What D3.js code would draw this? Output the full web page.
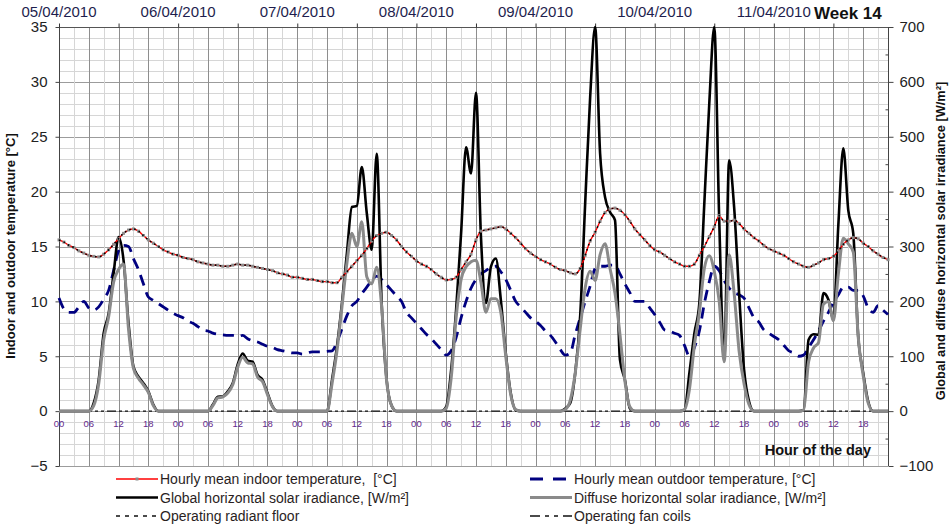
<!doctype html>
<html>
  <head>
    <title>Week 14</title>
    <style>
      html, body { margin: 0; padding: 0; background: #fff; }
      svg { display: block; font-family: "Liberation Sans", Arial, sans-serif; }
      svg text { white-space: pre; }
    </style>
  </head>
  <body>
    <div id="chart"></div>
    <script src="https://d3js.org/d3.v7.min.js"></script>
    <script>
      // hourly values, 05/04/2010 00h .. 11/04/2010 23h
      var indoorTemp = [
        15.6,15.4,15.1,14.9,14.6,14.4,14.2,14.1,14.05,14.3,14.7,15.2,15.7,16.2,16.5,16.6,16.4,16.0,15.6,15.3,15.0,14.7,14.5,14.3,
        14.2,14.0,13.9,13.8,13.6,13.5,13.4,13.3,13.3,13.2,13.2,13.3,13.4,13.3,13.3,13.2,13.1,13.0,12.9,12.8,12.6,12.5,12.4,12.2,
        12.2,12.1,12.0,12.0,11.9,11.8,11.8,11.7,11.7,12.2,12.7,13.2,13.7,14.2,14.8,15.5,16.0,16.2,16.3,16.0,15.6,15.0,14.5,14.1,
        13.7,13.4,13.2,12.9,12.5,12.2,11.95,12.0,12.2,12.9,13.6,14.3,15.6,16.4,16.5,16.6,16.7,16.8,16.6,16.2,15.8,15.3,14.8,14.4,
        14.1,13.8,13.6,13.4,13.1,12.9,12.8,12.6,12.5,13.0,14.2,15.5,16.3,17.3,18.1,18.4,18.5,18.3,17.9,17.3,16.6,16.1,15.6,15.1,
        14.7,14.5,14.2,13.9,13.6,13.4,13.2,13.2,13.4,14.2,15.0,15.9,16.8,17.8,17.3,17.3,17.4,17.1,16.6,16.2,15.8,15.5,15.1,14.8,
        14.6,14.4,14.2,13.9,13.6,13.4,13.2,13.1,13.3,13.5,13.8,13.9,14.1,14.6,15.2,15.6,15.8,15.7,15.3,15.0,14.6,14.3,14.0,13.8
      ];
      var outdoorTemp = [
        10.3,9.3,9.0,9.0,9.5,10.0,9.4,9.2,9.5,10.2,11.0,12.8,14.6,15.1,15.0,13.9,12.9,11.6,10.4,10.1,9.8,9.5,9.2,8.9,
        8.7,8.5,8.2,8.0,7.7,7.4,7.3,7.1,7.0,6.95,6.9,6.9,6.8,6.9,6.6,6.4,6.3,6.1,5.9,5.8,5.6,5.5,5.4,5.3,
        5.3,5.2,5.3,5.4,5.4,5.4,5.45,5.5,6.3,7.5,8.7,9.6,10.0,10.7,11.3,11.9,12.3,12.0,11.5,11.0,10.5,10.0,9.0,8.5,
        8.0,7.5,7.0,6.6,6.1,5.6,5.1,5.5,6.7,8.5,10.0,11.2,12.0,12.5,12.8,13.1,13.2,12.7,12.0,11.0,10.0,9.5,9.0,8.5,
        8.2,7.8,7.3,6.9,6.3,5.6,5.1,5.3,7.0,8.5,10.0,11.4,13.0,13.2,13.2,13.3,13.3,12.5,11.6,10.8,10.0,10.0,10.0,9.4,
        8.8,8.1,7.4,7.3,7.1,6.9,6.0,5.0,5.8,7.3,9.8,11.8,13.2,12.8,11.9,11.2,10.8,10.6,10.3,9.4,8.5,8.1,7.4,7.1,
        6.8,6.5,6.0,5.5,5.3,5.0,5.1,5.8,6.5,7.3,8.2,9.0,9.9,10.6,11.3,11.3,11.0,11.0,10.5,9.4,9.0,9.6,9.2,8.8
      ];
      var globalIrr = [
        0,0,0,0,0,0,0,15,57,142,178,251,317,275,161,81,63,51,36,12,0,0,0,0,
        0,0,0,0,0,0,0,12,26,27,36,51,85,105,92,90,66,57,33,9,0,0,0,0,
        0,0,0,0,0,0,0,57,118,197,288,372,374,445,361,294,469,197,57,10,0,0,0,0,
        0,0,0,0,0,0,8,75,185,324,481,433,580,318,197,263,278,203,106,33,2,0,0,0,
        0,0,0,0,0,0,5,15,70,175,379,572,700,470,390,363,348,94,57,5,0,0,0,0,
        0,0,0,0,0,0,2,70,142,197,379,561,700,348,95,457,372,215,76,18,0,0,0,0,
        0,0,0,0,0,0,2,130,140,139,215,203,166,340,479,366,324,136,70,18,0,0,0,0
      ];
      var diffuseIrr = [
        0,0,0,0,0,0,0,10,50,130,172,235,258,268,150,78,60,48,34,10,0,0,0,0,
        0,0,0,0,0,0,0,10,24,26,33,48,80,98,88,86,62,54,30,8,0,0,0,0,
        0,0,0,0,0,0,0,50,110,190,270,324,300,345,245,232,262,190,55,10,0,0,0,0,
        0,0,0,0,0,0,5,60,170,240,263,272,275,235,180,205,205,180,100,30,3,0,0,0,
        0,0,0,0,0,0,3,20,70,150,225,255,238,285,305,260,215,140,55,8,0,0,0,0,
        0,0,0,0,0,0,3,40,120,180,260,283,255,200,90,285,215,110,50,12,0,0,0,0,
        0,0,0,0,0,0,2,90,115,125,195,200,165,250,315,305,290,135,65,15,0,0,0,0
      ];
      // radiant floor runs all week (plotted on the indoor temperature), fan coils stay off
      var radiantFloor = indoorTemp;
      var fanCoilHours = [0, 167];
      var fanCoilState = [0, 0];

      var dateLabels = ["05/04/2010","06/04/2010","07/04/2010","08/04/2010","09/04/2010","10/04/2010","11/04/2010"];
      var dateHours = [0, 24, 48, 72, 96, 120, 144];
      var hourLabels = ["00","06","12","18"];
      var tempTicks = [-5, 0, 5, 10, 15, 20, 25, 30, 35];
      var irrTicks = [-100, 0, 100, 200, 300, 400, 500, 600, 700];

      (function() {
        var W = 951, H = 529;
        var pLeft = 59, pRight = 888, pTop = 27, pBottom = 466;

        var svg = d3.select("#chart").append("svg")
            .attr("width", W).attr("height", H);
        svg.append("rect").attr("width", W).attr("height", H).attr("fill", "#fff");

        var x = d3.scaleLinear().domain([0, indoorTemp.length - 1]).range([pLeft, pRight]);
        var yT = d3.scaleLinear().domain([-5, 35]).range([pBottom, pTop]);
        var yI = d3.scaleLinear().domain([-100, 700]).range([pBottom, pTop]);

        function px(v) { return Math.round(v) + 0.5; }

        // grid
        var grid = svg.append("g").attr("shape-rendering", "crispEdges");
        d3.range(-5, 36, 1).forEach(function(t) {
          grid.append("line")
            .attr("x1", pLeft).attr("x2", pRight)
            .attr("y1", px(yT(t))).attr("y2", px(yT(t)))
            .attr("stroke", t % 5 == 0 ? "#9c9c9c" : "#d6d6d6");
        });
        d3.range(3, 167, 3).forEach(function(h) {
          grid.append("line")
            .attr("x1", px(x(h))).attr("x2", px(x(h)))
            .attr("y1", pTop).attr("y2", pBottom)
            .attr("stroke", h % 6 == 0 ? "#8e8e8e" : "#d6d6d6");
        });
        // frame
        grid.append("line").attr("x1", pLeft).attr("x2", pRight).attr("y1", px(pTop)).attr("y2", px(pTop)).attr("stroke", "#555");
        grid.append("line").attr("x1", px(pLeft)).attr("x2", px(pLeft)).attr("y1", pTop).attr("y2", pBottom).attr("stroke", "#444");
        grid.append("line").attr("x1", px(pRight)).attr("x2", px(pRight)).attr("y1", pTop).attr("y2", pBottom).attr("stroke", "#444");

        // top ticks every 12 h
        var topAxis = svg.append("g").attr("transform", "translate(0," + px(pTop) + ")")
            .call(d3.axisTop(x).tickValues(d3.range(0, 168, 12)).tickSize(4).tickFormat(""));
        topAxis.select(".domain").remove();
        topAxis.selectAll("line").attr("stroke", "#333");

        // left axis
        var la = svg.append("g").attr("transform", "translate(" + px(pLeft) + ",0)")
            .call(d3.axisLeft(yT).tickValues(tempTicks).tickSize(4).tickPadding(8));
        la.select(".domain").remove();
        la.selectAll("line").attr("stroke", "#444");
        la.selectAll("text").attr("font-size", 15).attr("fill", "#222")
          .attr("font-family", "Liberation Sans, Arial, sans-serif");

        // right axis
        var ra = svg.append("g").attr("transform", "translate(" + px(pRight) + ",0)")
            .call(d3.axisRight(yI).tickValues(irrTicks).tickSize(5).tickPadding(6));
        ra.select(".domain").remove();
        ra.selectAll("line").attr("stroke", "#444");
        ra.selectAll("text").attr("font-size", 15).attr("fill", "#222")
          .attr("font-family", "Liberation Sans, Arial, sans-serif");
        var rm = svg.append("g").attr("transform", "translate(" + px(pRight) + ",0)")
            .call(d3.axisRight(yI).tickValues(d3.range(-50, 700, 100)).tickSize(-3).tickFormat(""));
        rm.select(".domain").remove();
        rm.selectAll("line").attr("stroke", "#444");

        // date labels
        svg.selectAll(".date").data(dateLabels).enter().append("text")
          .attr("x", function(d, i) { return x(dateHours[i]); })
          .attr("y", 17)
          .attr("text-anchor", "middle")
          .attr("font-size", 15)
          .attr("fill", "#1e1e4e")
          .text(function(d) { return d; });
        svg.append("text").attr("x", 814).attr("y", 19)
          .attr("font-size", 17).attr("font-weight", "bold").attr("fill", "#111")
          .text("Week 14");

        // hour labels under the zero line
        var hourTicks = d3.range(0, 168, 6);
        svg.selectAll(".hour").data(hourTicks).enter().append("text")
          .attr("x", function(h) { return x(h); })
          .attr("y", 427)
          .attr("text-anchor", "middle")
          .attr("font-size", 9.5)
          .attr("fill", "#662a8c")
          .text(function(h, i) { return hourLabels[i % 4]; });

        svg.append("text").attr("x", 871).attr("y", 455).attr("text-anchor", "end")
          .attr("font-size", 14.5).attr("font-weight", "bold").attr("fill", "#111")
          .text("Hour of the day");

        // axis titles
        svg.append("text")
          .attr("transform", "translate(15,246) rotate(-90)")
          .attr("text-anchor", "middle").attr("font-size", 13).attr("font-weight", "bold").attr("fill", "#111")
          .text("Indoor and outdoor temperature [°C]");
        svg.append("text")
          .attr("transform", "translate(945,241) rotate(-90)")
          .attr("text-anchor", "middle").attr("font-size", 12.8).attr("font-weight", "bold").attr("fill", "#111")
          .text("Global and diffuse horizontal solar irradiance [W/m²]");

        // series (smoothed like the spreadsheet lines)
        var plot = svg.append("g");
        var tempLine = d3.line().curve(d3.curveMonotoneX)
            .x(function(d, i) { return x(i); }).y(function(d) { return yT(d); });
        var irrLine = d3.line().curve(d3.curveMonotoneX)
            .x(function(d, i) { return x(i); }).y(function(d) { return yI(d); });

        plot.append("path").datum(fanCoilState)
          .attr("d", d3.line().x(function(d, i) { return x(fanCoilHours[i]); }).y(function(d) { return yT(d); }))
          .attr("fill", "none").attr("stroke", "#111").attr("stroke-width", 1.4)
          .attr("stroke-dasharray", "9,3,3,3,3,3");

        plot.append("path").datum(outdoorTemp).attr("d", tempLine)
          .attr("fill", "none").attr("stroke", "#000080").attr("stroke-width", 2.8)
          .attr("stroke-dasharray", "11,7");

        plot.append("path").datum(globalIrr).attr("d", irrLine)
          .attr("fill", "none").attr("stroke", "#000").attr("stroke-width", 2.6)
          .attr("stroke-linejoin", "round");

        plot.append("path").datum(diffuseIrr).attr("d", irrLine)
          .attr("fill", "none").attr("stroke", "#8a8a8a").attr("stroke-width", 3)
          .attr("stroke-linejoin", "round");

        plot.append("path").datum(indoorTemp).attr("d", tempLine)
          .attr("fill", "none").attr("stroke", "#ff0000").attr("stroke-width", 1.4);
        plot.selectAll(".mk").data(indoorTemp).enter().append("rect")
          .attr("x", function(d, i) { return x(i) - 1.5; })
          .attr("y", function(d) { return yT(d) - 1.5; })
          .attr("width", 3).attr("height", 3).attr("fill", "#8c8c8c");

        plot.append("path").datum(radiantFloor).attr("d", tempLine)
          .attr("fill", "none").attr("stroke", "#000").attr("stroke-width", 1.6)
          .attr("stroke-dasharray", "1.6,3.4");

        // legend
        var legend = [
          { label: "Hourly mean indoor temperature,  [°C]", col: 0, row: 0, stroke: "#ff0000", w: 1.4, dash: null, marker: true },
          { label: "Hourly mean outdoor temperature, [°C]", col: 1, row: 0, stroke: "#000080", w: 2.8, dash: "13,10" },
          { label: "Global horizontal solar iradiance, [W/m²]", col: 0, row: 1, stroke: "#000", w: 2.6, dash: null },
          { label: "Diffuse horizontal solar iradiance, [W/m²]", col: 1, row: 1, stroke: "#8a8a8a", w: 3, dash: null },
          { label: "Operating radiant floor", col: 0, row: 2, stroke: "#111", w: 1.5, dash: "4,5" },
          { label: "Operating fan coils", col: 1, row: 2, stroke: "#111", w: 1.5, dash: "10,5,4,5,4,5" }
        ];
        var colX = [116, 530], rowY = [479, 497.5, 516];
        var lg = svg.append("g");
        legend.forEach(function(e) {
          var lx = colX[e.col], ly = rowY[e.row];
          var ln = lg.append("line").attr("x1", lx).attr("x2", lx + 42).attr("y1", ly).attr("y2", ly)
            .attr("stroke", e.stroke).attr("stroke-width", e.w);
          if (e.dash) ln.attr("stroke-dasharray", e.dash);
          if (e.marker) {
            lg.append("rect").attr("x", lx + 19.5).attr("y", ly - 1.5).attr("width", 3).attr("height", 3).attr("fill", "#8c8c8c");
          }
          lg.append("text").attr("x", lx + 44).attr("y", ly + 5)
            .attr("font-size", 14).attr("fill", "#2a1e1e")
            .text(e.label);
        });
      })();
    </script>
  </body>
</html>
